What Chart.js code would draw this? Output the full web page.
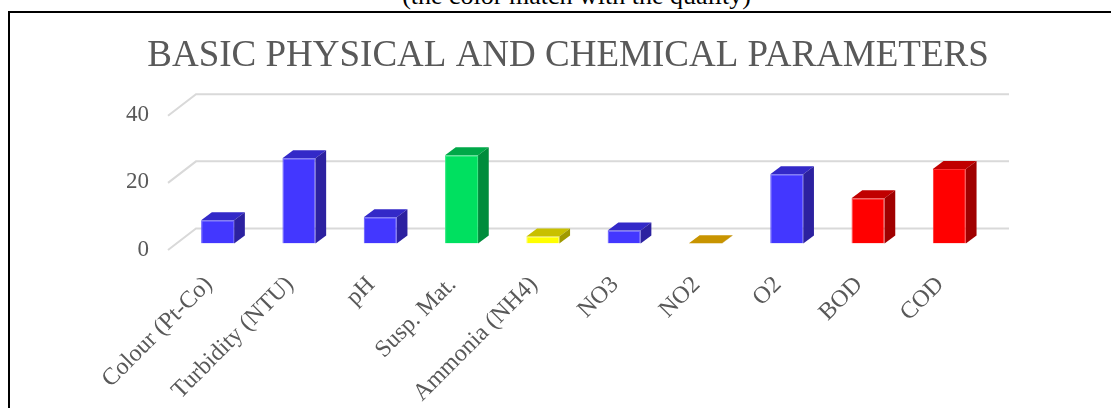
<!DOCTYPE html>
<html>
<head>
<meta charset="utf-8">
<title>Basic physical and chemical parameters</title>
<script src="https://cdn.jsdelivr.net/npm/chart.js@4/dist/chart.umd.min.js"></script>
<style>
  html, body { margin: 0; padding: 0; background: #fff; overflow: hidden; }
  #wrap { position: relative; width: 1111px; height: 408px; overflow: hidden; }
  #note {
    position: absolute; left: 21px; top: -17px; width: 1111px;
    text-align: center; font: 26px "Liberation Serif", "Times New Roman", serif;
    line-height: 26px; color: #000; white-space: nowrap;
  }
  #frame {
    position: absolute; left: 8px; top: 11px; width: 1300px; height: 600px;
    border-left: 2px solid #000; border-top: 2px solid #000;
  }
  #chart { position: absolute; left: 0; top: 0; }
</style>
</head>
<body>
<div id="wrap">
  <div id="note">(the color match with the quality)</div>
  <div id="frame"></div>
  <canvas id="chart" width="1111" height="408"></canvas>
</div>
<script>
// Parameters measured in the sample
const categories = [
  'Colour (Pt-Co)', 'Turbidity (NTU)', 'pH', 'Susp. Mat.', 'Ammonia (NH4)',
  'NO3', 'NO2', 'O2', 'BOD', 'COD'
];
const values = [6.9, 25.4, 7.8, 26.3, 2.1, 3.9, 0.1, 20.6, 13.5, 22.2];

// Value axis
const yMin = 0;
const yMax = 40;
const yStep = 20;

// Colour of each bar, by quality class (front, edge, top and right faces)
const frontColors = ['#4337ff', '#4337ff', '#4337ff', '#00e060', '#ffff00', '#4337ff', '#e0a800', '#4337ff', '#ff0000', '#ff0000'];
const edgeColors  = ['#5a50ff', '#5a50ff', '#5a50ff', '#30e880', '#ffff40', '#5a50ff', '#e8b830', '#5a50ff', '#ff3030', '#ff3030'];
const topColors   = ['#3329c8', '#3329c8', '#3329c8', '#00a848', '#c8c000', '#3329c8', '#c89400', '#3329c8', '#c00000', '#c00000'];
const sideColors  = ['#2c21a0', '#2c21a0', '#2c21a0', '#008c3c', '#a09a00', '#2c21a0', '#a07600', '#2c21a0', '#a00000', '#a00000'];

const serif = '"Liberation Serif", "Times New Roman", serif';
const textGrey = '#595959';

// Oblique 3D look: bar depth and the back wall offsets
const barDepth = { dx: 10.7, dy: -8 };
const wallFront = { dx: -9, dy: 6.5 };
const wallBack = { dx: 19, dy: -15 };

// Where each rotated category label ends, relative to its tick
const labelShift = { dx: -9, dy: 37.5 };

const box3d = {
  id: 'box3d',
  beforeDatasetsDraw(chart) {
    const { ctx, chartArea: a, scales: { y } } = chart;
    ctx.save();
    ctx.strokeStyle = '#d9d9d9';
    ctx.lineWidth = 2;
    y.ticks.forEach(t => {
      const py = y.getPixelForValue(t.value);
      ctx.beginPath();
      ctx.moveTo(a.left + wallFront.dx, py + wallFront.dy);
      ctx.lineTo(a.left + wallBack.dx, py + wallBack.dy);
      ctx.lineTo(a.right + wallBack.dx, py + wallBack.dy);
      ctx.stroke();
    });
    ctx.restore();
  },
  afterDatasetsDraw(chart) {
    const { ctx } = chart;
    const meta = chart.getDatasetMeta(0);
    const { dx, dy } = barDepth;
    ctx.save();
    meta.data.forEach((bar, i) => {
      const { x, y, base, width } = bar.getProps(['x', 'y', 'base', 'width'], true);
      const l = x - width / 2;
      const r = x + width / 2;
      // top face
      ctx.fillStyle = topColors[i];
      ctx.beginPath();
      ctx.moveTo(l, y);
      ctx.lineTo(l + dx, y + dy);
      ctx.lineTo(r + dx, y + dy);
      ctx.lineTo(r, y);
      ctx.closePath();
      ctx.fill();
      // right face
      ctx.fillStyle = sideColors[i];
      ctx.beginPath();
      ctx.moveTo(r, y);
      ctx.lineTo(r + dx, y + dy);
      ctx.lineTo(r + dx, base + dy);
      ctx.lineTo(r, base);
      ctx.closePath();
      ctx.fill();
    });
    ctx.restore();
  },
  afterDraw(chart) {
    // rotated category labels below the floor
    const { ctx, chartArea: a, scales: { x } } = chart;
    ctx.save();
    ctx.font = '24px ' + serif;
    ctx.fillStyle = textGrey;
    ctx.textAlign = 'right';
    ctx.textBaseline = 'middle';
    x.ticks.forEach((t, i) => {
      const ax = x.getPixelForTick(i) + labelShift.dx;
      const ay = a.bottom + labelShift.dy;
      ctx.save();
      ctx.translate(ax, ay);
      ctx.rotate(-Math.PI / 4);
      ctx.fillText(t.label, 0, 0);
      ctx.restore();
    });
    ctx.restore();
  }
};

new Chart(document.getElementById('chart'), {
  type: 'bar',
  data: {
    labels: categories,
    datasets: [{
      data: values,
      backgroundColor: frontColors,
      borderColor: edgeColors,
      borderWidth: 1,
      barPercentage: 0.406,
      categoryPercentage: 1
    }]
  },
  options: {
    responsive: false,
    animation: false,
    events: [],
    layout: { padding: { left: 146, right: 121, top: 0, bottom: 0 } },
    plugins: {
      legend: { display: false },
      tooltip: { enabled: false },
      title: {
        display: true,
        text: 'BASIC PHYSICAL AND CHEMICAL PARAMETERS',
        color: textGrey,
        font: { family: serif, size: 37, weight: 'normal', lineHeight: 1.2 },
        padding: { top: 34, bottom: 30.8 }
      }
    },
    scales: {
      x: {
        grid: { display: false },
        border: { display: false },
        ticks: { display: false, autoSkip: false },
        afterFit(scale) { scale.height = 164.5; }
      },
      y: {
        min: yMin,
        max: yMax,
        grid: { display: false },
        border: { display: false },
        ticks: {
          stepSize: yStep,
          color: textGrey,
          font: { family: serif, size: 23 },
          mirror: true,
          crossAlign: 'far',
          padding: -51,
          labelOffset: 6
        },
        afterFit(scale) { scale.width = 31; }
      }
    }
  },
  plugins: [box3d]
});
</script>
</body>
</html>
